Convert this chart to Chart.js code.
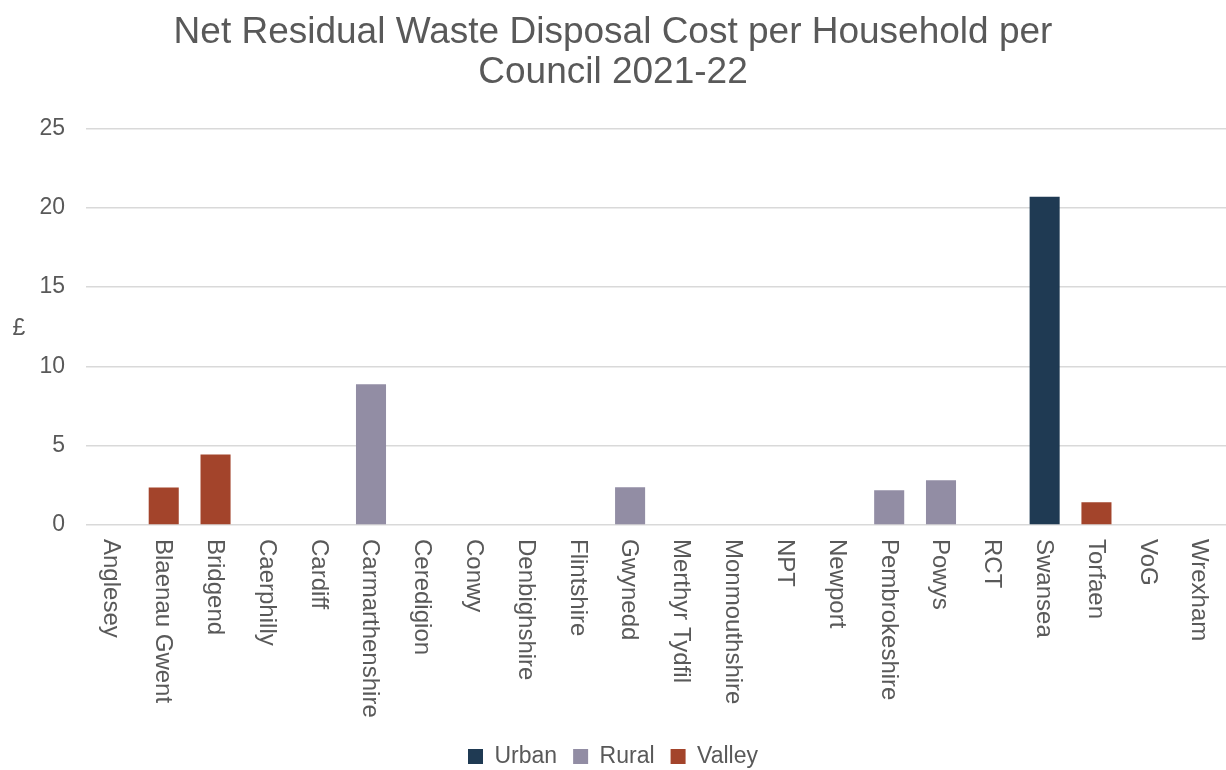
<!DOCTYPE html>
<html>
<head>
<meta charset="utf-8">
<script src="https://cdn.jsdelivr.net/npm/chart.js@4/dist/chart.umd.min.js"></script>
<style>
  html, body { margin: 0; padding: 0; background: #ffffff; }
  #wrap { width: 1226px; height: 770px; position: relative; }
</style>
</head>
<body>
<div id="wrap"><canvas id="c" width="1226" height="770"></canvas></div>
<script>
const categories = ["Anglesey","Blaenau Gwent","Bridgend","Caerphilly","Cardiff","Carmarthenshire","Ceredigion","Conwy","Denbighshire","Flintshire","Gwynedd","Merthyr Tydfil","Monmouthshire","NPT","Newport","Pembrokeshire","Powys","RCT","Swansea","Torfaen","VoG","Wrexham"];
const urbanValues  = [null,null,null,null,null,null,null,null,null,null,null,null,null,null,null,null,null,null,20.69,null,null,null];
const ruralValues  = [null,null,null,null,null,8.88,null,null,null,null,2.38,null,null,null,null,2.19,2.82,null,null,null,null,null];
const valleyValues = [null,2.36,4.44,null,null,null,null,null,null,null,null,null,null,null,null,null,null,null,null,1.43,null,null];
const yTicks = [0,5,10,15,20,25];
const titleLines = ["Net Residual Waste Disposal Cost per Household per","Council 2021-22"];
const yAxisTitle = "£";

const FONT = "'Liberation Sans', Arial, Helvetica, sans-serif";
const TEXT = "#595959";

const customLabels = {
  id: 'customLabels',
  afterDraw(chart) {
    const ctx = chart.ctx;
    const xs = chart.scales.x;
    const area = chart.chartArea;
    ctx.save();
    ctx.fillStyle = TEXT;
    ctx.font = "24px " + FONT;
    // x labels rotated clockwise (read top to bottom)
    categories.forEach((lab, i) => {
      const x = xs.getPixelForTick(i);
      ctx.save();
      ctx.translate(x - 1, area.bottom + 14);
      ctx.rotate(Math.PI / 2);
      ctx.textAlign = 'left';
      ctx.textBaseline = 'middle';
      ctx.fillText(lab, 0, 0);
      ctx.restore();
    });
    // upright y axis title
    ctx.font = "23px " + FONT;
    ctx.textAlign = 'center';
    ctx.textBaseline = 'middle';
    ctx.fillText(yAxisTitle, 19, (area.top + area.bottom) / 2 + 2);
    ctx.restore();
  }
};

new Chart(document.getElementById('c'), {
  type: 'bar',
  data: {
    labels: categories,
    datasets: [
      { label: 'Urban',  data: urbanValues,  backgroundColor: '#1F3A53' },
      { label: 'Rural',  data: ruralValues,  backgroundColor: '#928DA4' },
      { label: 'Valley', data: valleyValues, backgroundColor: '#A3442B' }
    ]
  },
  options: {
    responsive: false,
    animation: false,
    layout: { padding: { left: 0, right: 0, top: 0, bottom: -8 } },
    datasets: { bar: { categoryPercentage: 1.0, barPercentage: 0.58 } },
    plugins: {
      title: {
        display: true,
        text: titleLines,
        color: TEXT,
        font: { family: FONT, size: 37, weight: 'normal', lineHeight: 1.1 },
        padding: { top: 12, bottom: 35 }
      },
      legend: {
        display: true,
        position: 'bottom',
        labels: {
          color: TEXT,
          font: { family: FONT, size: 23 },
          boxWidth: 15,
          boxHeight: 15,
          padding: 16
        }
      },
      tooltip: { enabled: false }
    },
    scales: {
      x: {
        stacked: true,
        grid: { display: false },
        border: { display: false },
        ticks: { display: false },
        afterFit(s) { s.height = 204; }
      },
      y: {
        stacked: true,
        min: 0,
        max: 25,
        afterBuildTicks(s) { s.ticks = yTicks.map(v => ({ value: v })); },
        grid: { color: '#D9D9D9', lineWidth: 1.5, drawTicks: false },
        border: { display: false },
        ticks: {
          color: TEXT,
          font: { family: FONT, size: 23 },
          padding: 21
        },
        afterFit(s) { s.width = 86; }
      }
    }
  },
  plugins: [customLabels]
});
</script>
</body>
</html>
